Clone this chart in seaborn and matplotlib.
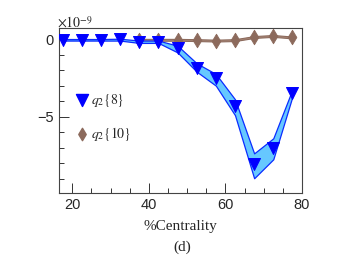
import numpy as np
import matplotlib
matplotlib.use('Agg')
import matplotlib.pyplot as plt
import seaborn as sns
from matplotlib.ticker import MultipleLocator

# centrality bins
cent8 = [17.5, 22.5, 27.5, 32.5, 37.5, 42.5, 47.5, 52.5, 57.5, 62.5, 67.5, 72.5, 77.5]
q8 = [-0.05, -0.05, -0.05, -0.02, -0.2, -0.2, -0.6, -1.85, -2.5, -4.3, -8.05, -7.0, -3.5]
q8_hi = [0.0, 0.0, 0.0, 0.02, -0.1, -0.1, -0.43, -1.56, -2.25, -3.88, -7.36, -6.39, -3.24]
q8_lo = [-0.1, -0.1, -0.1, -0.1, -0.25, -0.25, -0.86, -2.1, -3.0, -4.9, -8.96, -7.74, -3.7]

cent10 = [37.5, 42.5, 47.5, 52.5, 57.5, 62.5, 67.5, 72.5, 77.5]
q10 = [-0.05, -0.05, -0.05, -0.07, -0.1, -0.07, 0.13, 0.2, 0.1]
q10_err = [0.06, 0.06, 0.06, 0.06, 0.06, 0.06, 0.06, 0.06, 0.06]

sns.set_style('ticks')
plt.rcParams['font.family'] = ['Liberation Sans', 'DejaVu Sans']
plt.rcParams['mathtext.fontset'] = 'stix'

fig = plt.figure(figsize=(3.47, 2.63), dpi=100)
ax = fig.add_axes([58.7 / 347, 1 - 192.7 / 263, (302 - 58.7) / 347, (192.7 - 28) / 263])

brown = '#8c6a5c'
q10_lo = np.array(q10) - np.array(q10_err)
q10_hi = np.array(q10) + np.array(q10_err)
ax.fill_between(cent10, q10_lo, q10_hi, color='#a88878', edgecolor=brown, lw=0.8, zorder=2)
sns.scatterplot(x=cent10, y=q10, marker='d', s=55, color=brown, edgecolor=brown, ax=ax, zorder=3)

ax.fill_between(cent8, q8_lo, q8_hi, color='#66c8ff', edgecolor='#0a2cff', lw=0.9, zorder=4)
sns.scatterplot(x=cent8, y=q8, marker='v', s=75, color='#0000ff', edgecolor='#0000ff', ax=ax, zorder=5)

ax.set_xlim(16.45, 80)
ax.set_ylim(-9.89, 0.71)
ax.xaxis.set_major_locator(MultipleLocator(20))
ax.xaxis.set_minor_locator(MultipleLocator(5))
ax.yaxis.set_major_locator(MultipleLocator(5))
ax.yaxis.set_minor_locator(MultipleLocator(1))
ax.tick_params(which='both', direction='in', top=False, right=False, labelsize=10.5, width=0.7, color='#333333')
ax.tick_params(which='major', length=7)
ax.tick_params(which='minor', length=3.5)
for sp in ax.spines.values():
    sp.set_linewidth(0.8)
    sp.set_color('#444444')
ax.set_xlabel('%Centrality', family='Liberation Serif', fontsize=11, labelpad=6)
ax.text(-0.005, 0.985, r'$\times10^{-9}$', transform=ax.transAxes, fontsize=10, ha='left', va='bottom', family='Liberation Sans')

# legend
ax.scatter([22.6], [-3.95], marker='v', s=75, color='#0000ff', zorder=6)
ax.text(25.0, -3.95, r'$q_2\{8\}$', fontsize=10, va='center')
ax.scatter([22.6], [-6.1], marker='d', s=40, color=brown, zorder=6)
ax.text(25.0, -6.1, r'$q_2\{10\}$', fontsize=10, va='center')

fig.text(0.5 * (58.7 + 302) / 347 + 0.005, 1 - 247 / 263, '(d)', family='Liberation Serif', fontsize=11, ha='center', va='center')

fig.savefig('out.png', dpi=100)
